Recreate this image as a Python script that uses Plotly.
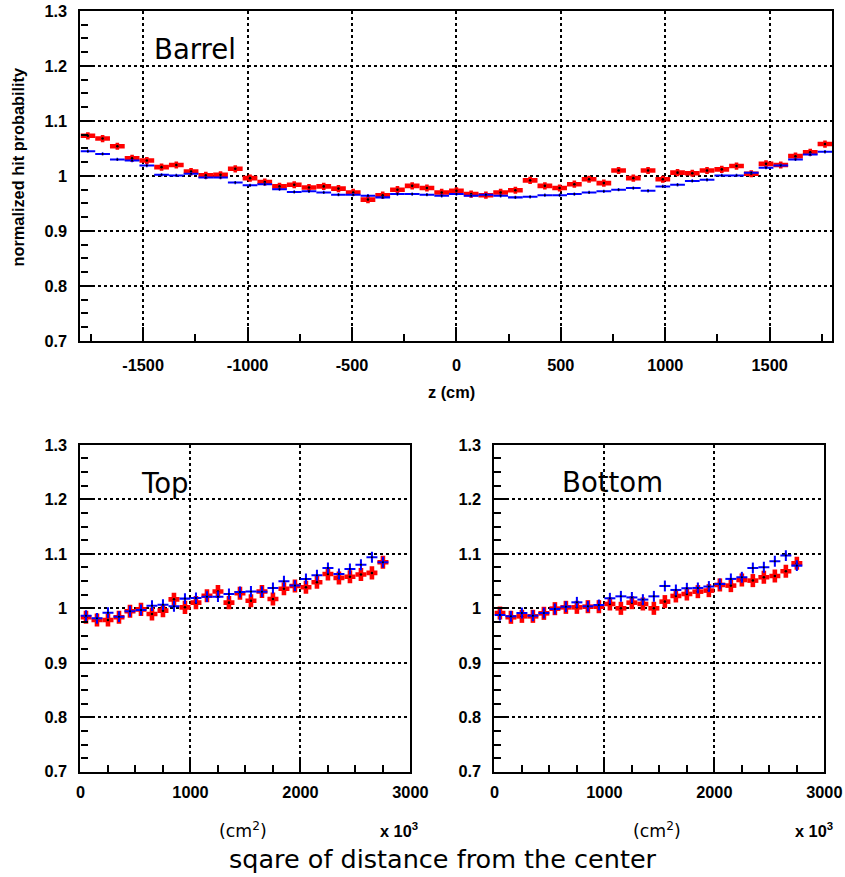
import numpy as np
import plotly.graph_objects as go

# ---------------- data ----------------
# Barrel: hit probability vs z, 51 bins from -1800 to 1800 cm
z_min, z_max, z_nbins = -1800.0, 1800.0, 51
barrel_red = [1.073, 1.068, 1.054, 1.032, 1.028, 1.016, 1.020, 1.008, 1.001, 1.002,
              1.013, 0.996, 0.989, 0.981, 0.984, 0.979, 0.981, 0.977, 0.970, 0.957,
              0.965, 0.975, 0.982, 0.978, 0.970, 0.973, 0.967, 0.965, 0.970, 0.974,
              0.992, 0.982, 0.978, 0.985, 0.994, 0.987, 1.010, 0.996, 1.010, 0.994,
              1.006, 1.005, 1.010, 1.012, 1.018, 1.004, 1.022, 1.020, 1.036, 1.043,
              1.058]
barrel_blue = [1.045, 1.040, 1.030, 1.028, 1.019, 1.002, 1.001, 1.004, 0.997, 0.997,
               0.988, 0.983, 0.985, 0.976, 0.971, 0.972, 0.970, 0.966, 0.966, 0.964,
               0.961, 0.967, 0.967, 0.966, 0.964, 0.967, 0.964, 0.966, 0.964, 0.961,
               0.962, 0.965, 0.965, 0.967, 0.970, 0.972, 0.975, 0.978, 0.973, 0.981,
               0.984, 0.991, 0.993, 1.001, 1.001, 1.006, 1.015, 1.019, 1.030, 1.039,
               1.044]

# Endcaps: vs square of distance from center (x 10^3 cm^2), 28 bins of 100
r2_min, r2_binw, r2_nbins = 0.0, 100.0, 28
top_red = [0.9835, 0.9786, 0.9786, 0.9835, 0.9945, 0.998, 0.9896, 0.9957, 1.0165, 1.0018,
           1.0104, 1.023, 1.031, 1.0104, 1.0276, 1.014, 1.031, 1.017, 1.036, 1.041,
           1.0386, 1.0478, 1.063, 1.0558, 1.058, 1.062, 1.065, 1.0846]
top_blue = [0.9865, 0.9816, 0.992, 0.9847, 0.9945, 0.997, 1.0049, 1.0067, 1.0037, 1.0178,
            1.019, 1.0214, 1.0214, 1.0263, 1.030, 1.031, 1.0306, 1.0374, 1.0496, 1.0417,
            1.054, 1.0607, 1.074, 1.063, 1.0723, 1.080, 1.0938, 1.0846]
bottom_red = [0.9914, 0.9835, 0.9853, 0.9853, 0.9908, 0.9994, 1.0018, 1.0018, 1.003, 1.003,
              1.008, 1.000, 1.0104, 1.008, 1.000, 1.0123, 1.0227, 1.0263, 1.0306, 1.0325,
              1.0429, 1.0417, 1.052, 1.0509, 1.057, 1.0594, 1.068, 1.0827]
bottom_blue = [0.9877, 0.9853, 0.9914, 0.9865, 0.9914, 0.9988, 1.003, 1.011, 1.0037, 1.0061,
               1.0184, 1.022, 1.020, 1.016, 1.022, 1.041, 1.0337, 1.0368, 1.0374, 1.040,
               1.0447, 1.054, 1.057, 1.074, 1.0754, 1.0864, 1.0968, 1.0784]

top_xtickvals = [-1500, -1000, -500, 0, 500, 1000, 1500]
top_xticktext = ["-1500", "-1000", "-500", "0", "500", "1000", "1500"]
bot_xtickvals = [0, 1000, 2000, 3000]
bot_xticktext = ["0", "1000", "2000", "3000"]
ytickvals = [0.7, 0.8, 0.9, 1.0, 1.1, 1.2, 1.3]
yticktext = ["0.7", "0.8", "0.9", "1", "1.1", "1.2", "1.3"]

# ---------------- figure ----------------
# The captured page appears slightly scaled/offset; lay out in target (photo)
# pixels and convert to figure pixels.
S = 0.98
SX, OX = 0.9735, 5.5
YOFF = 8.0
W = 862
H = 887

def fs(v):
    return v / S

def fi(v):
    return int(round(v / S))

def fx(t):
    return ((t - OX) / SX) / W

def fy(t):
    return 1 - ((t - YOFF) / S) / H

zw = (z_max - z_min) / z_nbins
z_centers = z_min + (np.arange(z_nbins) + 0.5) * zw
r2_centers = r2_min + (np.arange(r2_nbins) + 0.5) * r2_binw

fig = go.Figure()

def add_series(x, y, xerr, yerr, color, th_h, th_v, xa, ya, msize):
    n = len(x)
    fig.add_trace(go.Scatter(
        x=x, y=y, mode="markers", xaxis=xa, yaxis=ya, showlegend=False,
        marker=dict(size=fs(msize), color="black"),
        error_x=dict(type="data", array=[xerr] * n, width=0, thickness=fs(th_h), color=color),
        error_y=dict(type="data", array=[yerr] * n, width=0, thickness=fs(th_v), color=color),
    ))

RED = "#ff0000"
BLUE = "#0000ff"
add_series(z_centers, barrel_red, zw / 2, 0.0065, RED, 4.5, 3.5, "x", "y", 2.5)
add_series(z_centers, barrel_blue, zw / 2, 0.003, BLUE, 2, 1.5, "x", "y", 2)
add_series(r2_centers, top_red, r2_binw / 2, 0.012, RED, 4.5, 4.5, "x2", "y2", 2.5)
add_series(r2_centers, top_blue, r2_binw / 2, 0.010, BLUE, 2, 2, "x2", "y2", 2)
add_series(r2_centers, bottom_red, r2_binw / 2, 0.012, RED, 4.5, 4.5, "x3", "y3", 2.5)
add_series(r2_centers, bottom_blue, r2_binw / 2, 0.010, BLUE, 2, 2, "x3", "y3", 2)

tickfont = dict(family="Liberation Sans", size=fs(16), color="black", weight="bold")
common = dict(showline=True, linewidth=fs(2), linecolor="black", mirror=True,
              ticks="inside", ticklen=fi(14), tickwidth=fs(2), tickcolor="black",
              showgrid=True, gridcolor="black", gridwidth=fs(1.5), griddash="dot",
              zeroline=False, tickfont=tickfont, fixedrange=True)

def px_x(a, b):
    return [max(0.0, fx(a)), min(1.0, fx(b))]

def px_y(top, bottom):
    return [fy(bottom), fy(top)]

yax = dict(common, range=[0.7, 1.3], tickvals=ytickvals, ticktext=yticktext,
           ticklabelstandoff=fi(8),
           minor=dict(dtick=0.025, tick0=0.7, ticklen=fi(7), tickwidth=fs(2), ticks="inside",
                      tickcolor="black", showgrid=False))

xminor = dict(dtick=250, tick0=0, ticklen=fi(7), tickwidth=fs(2), ticks="inside",
              tickcolor="black", showgrid=False)

fig.update_layout(
    width=W, height=H, margin=dict(l=0, r=0, t=0, b=0),
    paper_bgcolor="white", plot_bgcolor="white",
    xaxis=dict(common, domain=px_x(81, 833), range=[z_min, z_max], anchor="y",
               tickvals=top_xtickvals, ticktext=top_xticktext, ticklabelstandoff=fi(8),
               minor=xminor),
    yaxis=dict(yax, domain=px_y(10, 340), anchor="x"),
    xaxis2=dict(common, domain=px_x(81, 411), range=[0, 3000], anchor="y2",
                tickvals=bot_xtickvals, ticktext=bot_xticktext, ticklabelstandoff=fi(5),
                minor=xminor),
    yaxis2=dict(yax, domain=px_y(444, 771), anchor="x2"),
    xaxis3=dict(common, domain=px_x(495, 825), range=[0, 3000], anchor="y3",
                tickvals=bot_xtickvals, ticktext=bot_xticktext, ticklabelstandoff=fi(5),
                minor=xminor),
    yaxis3=dict(yax, domain=px_y(444, 771), anchor="x3"),
)

def ann(text, x, y, size, family="DejaVu Sans", bold=False, angle=0, xanchor="center"):
    fig.add_annotation(text=text, x=fx(x), y=fy(y),
                       xref="paper", yref="paper",
                       showarrow=False, textangle=angle, xanchor=xanchor, yanchor="middle",
                       font=dict(family=family, size=fs(size), color="black",
                                 weight="bold" if bold else "normal"))

ann("normalized hit probability", 18, 166, 16, family="Liberation Sans", bold=True, angle=-90)
ann("z (cm)", 452, 391, 16, family="Liberation Sans", bold=True)
ann("Barrel", 196, 48, 27)
ann("Top", 166, 482, 27)
ann("Bottom", 613, 481, 27)
ann("(cm<sup>2</sup>)", 244, 829, 17)
ann("x 10<sup>3</sup>", 400, 829, 16, family="Liberation Sans", bold=True)
ann("(cm<sup>2</sup>)", 658, 829, 17)
ann("x 10<sup>3</sup>", 815, 829, 16, family="Liberation Sans", bold=True)
ann("sqare of distance from the center", 444, 858, 25)

fig.write_html("out.html")
